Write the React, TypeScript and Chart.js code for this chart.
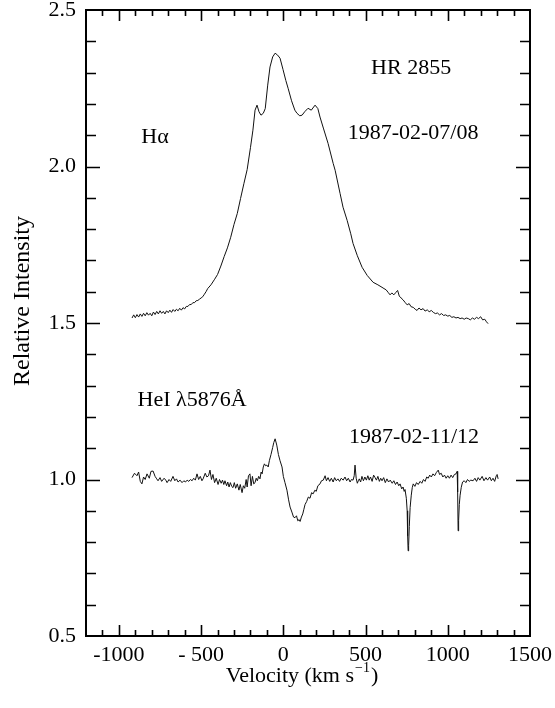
import React, { useEffect, useRef } from "react";
import { Chart, registerables } from "chart.js";

Chart.register(...registerables);

// ---------- data ----------
const haVelocity = [
  -920, -910, -900, -890, -880, -870, -860, -850, -840, -830, -820, -810, -800, -790, -780, -770, -760, -750, -740, -730,
  -720, -710, -700, -690, -680, -670, -660, -650, -640, -630, -620, -610, -600, -590, -580, -570, -560, -550, -540, -530,
  -520, -510, -500, -490, -480, -470, -460, -440, -420, -400, -380, -360, -340, -320, -300, -280, -260, -240, -220, -200,
  -185, -172, -160, -148, -136, -122, -110, -95, -81, -65, -50, -35, -20, -2, 15, 29, 50, 70, 83, 100,
  114, 130, 150, 170, 193, 210, 223, 245, 272, 303, 315, 345, 363, 388, 410, 424, 450, 479, 510, 546,
  575, 600, 612, 625, 637, 649, 660, 672, 685, 695, 705, 716, 728, 740, 753, 765, 777, 790, 802, 813,
  825, 837, 850, 862, 875, 887, 900, 912, 925, 937, 950, 962, 975, 987, 1000, 1012, 1025, 1037, 1050, 1062,
  1075, 1087, 1100, 1112, 1125, 1137, 1150, 1162, 1175, 1187, 1200, 1212, 1225, 1235, 1245,
];
const haIntensity = [
  1.516, 1.526, 1.517, 1.527, 1.519, 1.529, 1.521, 1.531, 1.523, 1.533, 1.525, 1.531, 1.523, 1.535, 1.527, 1.537, 1.529, 1.539, 1.531, 1.537,
  1.529, 1.539, 1.533, 1.541, 1.534, 1.543, 1.537, 1.544, 1.539, 1.547, 1.541, 1.549, 1.545, 1.553, 1.553, 1.559, 1.559, 1.565, 1.565, 1.571,
  1.572, 1.576, 1.58, 1.584, 1.592, 1.6, 1.61, 1.622, 1.638, 1.655, 1.682, 1.712, 1.74, 1.774, 1.815, 1.85, 1.898, 1.945, 1.99, 2.06,
  2.116, 2.18, 2.196, 2.175, 2.164, 2.17, 2.185, 2.26, 2.318, 2.35, 2.362, 2.356, 2.346, 2.31, 2.275, 2.25, 2.21, 2.18, 2.17, 2.162,
  2.164, 2.175, 2.186, 2.18, 2.196, 2.185, 2.158, 2.12, 2.074, 2.01, 1.988, 1.914, 1.87, 1.828, 1.785, 1.754, 1.715, 1.678, 1.652, 1.63,
  1.622, 1.614, 1.61, 1.606, 1.598, 1.59, 1.596, 1.59, 1.598, 1.604, 1.586, 1.58, 1.574, 1.566, 1.558, 1.562, 1.552, 1.55, 1.544, 1.54,
  1.548, 1.542, 1.546, 1.538, 1.542, 1.536, 1.54, 1.534, 1.53, 1.532, 1.526, 1.53, 1.524, 1.526, 1.522, 1.524, 1.518, 1.52, 1.516, 1.518,
  1.514, 1.516, 1.512, 1.516, 1.514, 1.51, 1.516, 1.512, 1.518, 1.514, 1.52, 1.51, 1.512, 1.504, 1.498,
];

const heVelocity = [
  -920, -905, -890, -880, -870, -860, -850, -840, -829, -815, -805, -792, -780, -770, -762, -750, -740, -725, -715, -707,
  -695, -685, -671, -660, -650, -640, -628, -616, -605, -595, -585, -575, -565, -555, -545, -535, -525, -515, -505, -495,
  -488, -475, -465, -455, -446, -437, -428, -418, -408, -397, -388, -378, -370, -362, -355, -345, -338, -330, -322, -314,
  -306, -298, -290, -280, -270, -262, -251, -243, -235, -226, -220, -212, -203, -196, -188, -180, -172, -165, -158, -150,
  -142, -135, -129, -122, -115, -108, -100, -92, -85, -75, -65, -58, -50, -40, -30, -20, -8, 0, 10, 22,
  32, 41, 52, 62, 71, 80, 88, 96, 102, 110, 118, 125, 132, 142, 152, 162, 172, 181, 192, 200,
  210, 223, 232, 243, 254, 262, 272, 282, 292, 303, 312, 322, 332, 342, 352, 364, 375, 385, 395, 406,
  414, 424, 431, 436, 443, 450, 456, 462, 470, 478, 487, 496, 505, 514, 522, 530, 540, 549, 558, 566,
  575, 584, 592, 600, 610, 620, 630, 640, 650, 662, 672, 682, 692, 702, 710, 720, 728, 735, 740, 748,
  753, 756, 759, 762, 766, 771, 778, 784, 790, 800, 810, 820, 832, 842, 852, 862, 872, 881, 890, 900,
  910, 920, 930, 942, 950, 960, 970, 980, 990, 1000, 1010, 1020, 1030, 1040, 1050, 1057, 1060, 1063, 1066, 1070,
  1075, 1082, 1090, 1100, 1110, 1120, 1130, 1140, 1154, 1165, 1175, 1185, 1195, 1209, 1220, 1232, 1242, 1255, 1265, 1275,
  1285, 1295, 1300, 1306,
];
const heIntensity = [
  1.006, 1.02, 1.012, 1.024, 0.994, 0.986, 1.008, 1.0, 1.018, 1.004, 1.026, 1.027, 1.01, 1.002, 0.996, 1.006, 0.994, 1.004, 0.998, 0.99,
  1.0, 0.994, 1.01, 0.996, 1.002, 0.992, 0.998, 0.99, 0.996, 0.992, 0.998, 0.994, 1.0, 0.996, 1.004, 0.998, 1.018, 1.0, 1.01, 0.996,
  1.002, 1.02, 1.008, 1.012, 1.03, 1.0, 1.016, 0.99, 1.004, 0.984, 1.0, 0.988, 0.998, 0.984, 0.996, 0.98, 0.992, 0.976, 0.99, 0.978,
  0.974, 0.99, 0.972, 0.986, 0.966, 0.984, 0.958, 0.98, 0.972, 1.0, 0.976, 1.012, 1.018, 0.98, 1.01, 0.986, 0.99, 1.004, 0.996, 1.01,
  1.002, 1.024, 1.018, 1.04, 1.05, 1.044, 1.046, 1.04, 1.06, 1.08, 1.102, 1.118, 1.13, 1.11, 1.08, 1.06, 1.04, 1.01, 0.99, 0.966,
  0.935, 0.912, 0.896, 0.88, 0.878, 0.884, 0.868, 0.872, 0.866, 0.88, 0.89, 0.905, 0.92, 0.93, 0.944, 0.94, 0.958, 0.954, 0.966, 0.962,
  0.98, 0.986, 0.996, 0.998, 1.012, 0.996, 1.006, 0.994, 1.004, 0.992, 1.006, 0.996, 1.002, 0.994, 1.004, 0.998, 1.008, 0.996, 1.004, 0.992,
  1.0, 0.998, 1.012, 1.046, 1.004, 0.988, 0.996, 1.002, 0.992, 1.01, 0.996, 1.008, 0.998, 1.012, 0.998, 1.008, 0.994, 1.014, 1.006, 0.998,
  1.01, 0.994, 1.004, 0.996, 1.006, 0.99, 1.002, 0.992, 0.998, 0.988, 0.996, 0.984, 0.992, 0.98, 0.986, 0.97, 0.976, 0.962, 0.968, 0.94,
  0.9, 0.82, 0.772, 0.79, 0.85, 0.91, 0.95, 0.974, 0.986, 0.978, 0.99, 0.984, 0.994, 0.988, 1.0, 0.994, 1.008, 1.004, 1.014, 1.008,
  1.018, 1.012, 1.022, 1.03, 1.016, 1.02, 1.008, 1.014, 1.004, 1.012, 1.004, 1.014, 1.006, 1.016, 1.018, 1.026, 0.96, 0.836, 0.87, 0.92,
  0.95, 0.975, 0.992, 0.996, 0.99, 1.0, 0.994, 0.998, 0.996, 1.004, 0.994, 1.006, 0.998, 1.01, 0.996, 1.006, 0.998, 1.008, 0.996, 1.004,
  0.994, 1.012, 1.016, 1.002,
];

const xTickValues = [-1000, -500, 0, 500, 1000, 1500];
const xTickLabels = ["-1000", "- 500", "0", "500", "1000", "1500"];
const yTickValues = [0.5, 1.0, 1.5, 2.0, 2.5];
const yTickLabels = ["0.5", "1.0", "1.5", "2.0", "2.5"];

const xTitleMain = "Velocity (km s";
const xTitleSup = "\u22121";
const yTitle = "Relative Intensity";

const annotations = [
  { text: "H\u03b1", x: -780, y: 2.094 },
  { text: "HR 2855", x: 777, y: 2.314 },
  { text: "1987-02-07/08", x: 789, y: 2.106 },
  { text: "HeI \u03bb5876\u00c5", x: -555, y: 1.252 },
  { text: "1987-02-11/12", x: 795, y: 1.134 },
];

const FONT = '"Liberation Serif", "Times New Roman", serif';

const framePlugin = {
  id: "framePlugin",
  afterDraw(chart: any) {
    const ctx = chart.ctx;
    const { left, right, top, bottom } = chart.chartArea;
    const xs = chart.scales.x;
    const ys = chart.scales.y;
    ctx.save();
    ctx.strokeStyle = "#000";
    // ticks
    ctx.lineWidth = 1.6;
    ctx.beginPath();
    for (let v = -1100; v <= 1400; v += 100) {
      const px = Math.round(xs.getPixelForValue(v)) + 0.5;
      const major = v % 500 === 0;
      const len = major ? 11 : 6;
      ctx.moveTo(px, bottom);
      ctx.lineTo(px, bottom - len);
      ctx.moveTo(px, top);
      ctx.lineTo(px, top + len);
    }
    for (let i = 1; i < 20; i++) {
      const v = 0.5 + i * 0.1;
      const py = Math.round(ys.getPixelForValue(v)) + 0.5;
      const major = i % 5 === 0;
      const len = major ? 14 : 10;
      ctx.moveTo(left, py);
      ctx.lineTo(left + len, py);
      ctx.moveTo(right, py);
      ctx.lineTo(right - len, py);
    }
    ctx.stroke();
    // frame
    ctx.lineWidth = 2;
    ctx.strokeRect(left, top, right - left, bottom - top);

    // annotations
    ctx.fillStyle = "#000";
    ctx.font = `22px ${FONT}`;
    ctx.textAlign = "center";
    ctx.textBaseline = "middle";
    for (const a of annotations) {
      ctx.fillText(a.text, xs.getPixelForValue(a.x), ys.getPixelForValue(a.y));
    }

    // x title with superscript
    ctx.textBaseline = "alphabetic";
    ctx.textAlign = "left";
    ctx.font = `22px ${FONT}`;
    const wMain = ctx.measureText(xTitleMain).width;
    ctx.font = `14px ${FONT}`;
    const wSup = ctx.measureText(xTitleSup).width;
    ctx.font = `22px ${FONT}`;
    const wClose = ctx.measureText(")").width;
    const total = wMain + wSup + wClose + 2;
    const cx = (left + right) / 2 - 6;
    const baseY = 682;
    let x0 = cx - total / 2;
    ctx.fillText(xTitleMain, x0, baseY);
    x0 += wMain + 1;
    ctx.font = `14px ${FONT}`;
    ctx.fillText(xTitleSup, x0, baseY - 10);
    x0 += wSup + 1;
    ctx.font = `22px ${FONT}`;
    ctx.fillText(")", x0, baseY);

    // y title
    ctx.save();
    ctx.translate(23, 301);
    ctx.rotate(-Math.PI / 2);
    ctx.font = `24px ${FONT}`;
    ctx.textAlign = "center";
    ctx.textBaseline = "middle";
    ctx.fillText(yTitle, 0, 0);
    ctx.restore();

    ctx.restore();
  },
};

export default function App() {
  const canvasRef = useRef<HTMLCanvasElement | null>(null);

  useEffect(() => {
    const canvas = canvasRef.current;
    if (!canvas) return;
    const chart = new Chart(canvas, {
      type: "line",
      data: {
        datasets: [
          {
            label: "Halpha",
            data: haVelocity.map((v, i) => ({ x: v, y: haIntensity[i] })),
            borderColor: "#111",
            borderWidth: 1,
            pointRadius: 0,
            tension: 0,
            fill: false,
          },
          {
            label: "HeI",
            data: heVelocity.map((v, i) => ({ x: v, y: heIntensity[i] })),
            borderColor: "#111",
            borderWidth: 1,
            pointRadius: 0,
            tension: 0,
            fill: false,
          },
        ],
      },
      options: {
        animation: false,
        responsive: false,
        maintainAspectRatio: false,
        layout: { padding: { left: 0, top: 10, right: 25, bottom: 0 } },
        plugins: { legend: { display: false }, tooltip: { enabled: false }, title: { display: false } },
        scales: {
          x: {
            type: "linear",
            min: -1200,
            max: 1500,
            grid: { display: false, drawTicks: false },
            border: { display: false },
            afterBuildTicks: (scale: any) => {
              scale.ticks = xTickValues.map((v) => ({ value: v }));
            },
            afterFit: (scale: any) => {
              scale.height = 72;
              scale.paddingLeft = 0;
              scale.paddingRight = 0;
            },
            ticks: {
              autoSkip: false,
              maxRotation: 0,
              padding: 6,
              color: "#000",
              font: { family: FONT, size: 22 },
              callback: (value: any) => {
                const idx = xTickValues.indexOf(Number(value));
                return idx >= 0 ? xTickLabels[idx] : "";
              },
            },
          },
          y: {
            type: "linear",
            min: 0.5,
            max: 2.5,
            grid: { display: false, drawTicks: false },
            border: { display: false },
            afterBuildTicks: (scale: any) => {
              scale.ticks = yTickValues.map((v) => ({ value: v }));
            },
            afterFit: (scale: any) => {
              scale.width = 86;
              scale.paddingTop = 0;
              scale.paddingBottom = 0;
            },
            ticks: {
              autoSkip: false,
              padding: 10,
              color: "#000",
              font: { family: FONT, size: 22 },
              callback: (value: any) => {
                const idx = yTickValues.findIndex((t) => Math.abs(t - Number(value)) < 1e-6);
                return idx >= 0 ? yTickLabels[idx] : "";
              },
            },
          },
        },
      },
      plugins: [framePlugin],
    });
    return () => chart.destroy();
  }, []);

  return (
    <div style={{ position: "fixed", left: 0, top: 0, width: 555, height: 708, background: "#fff" }}>
      <canvas ref={canvasRef} width={555} height={708} style={{ width: 555, height: 708 }} />
    </div>
  );
}
